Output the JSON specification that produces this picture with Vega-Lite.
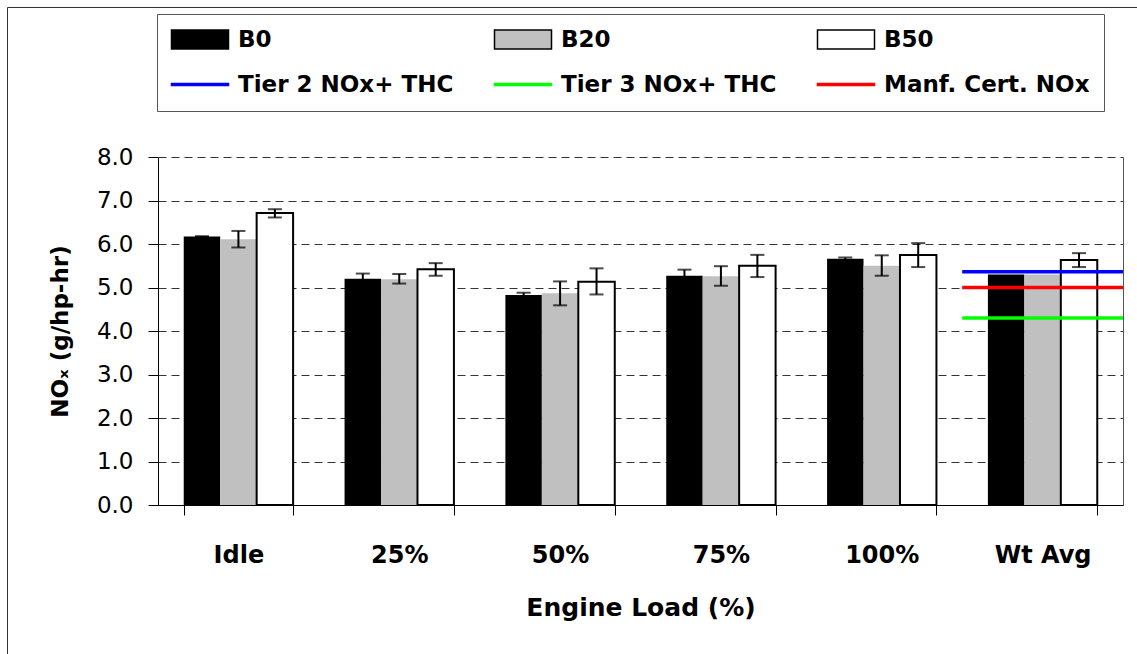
{
  "$schema": "https://vega.github.io/schema/vega-lite/v6.json",
  "width": 965,
  "height": 348,
  "autosize": {"type": "none"},
  "padding": {"left": 158, "top": 157, "right": 14, "bottom": 149},
  "background": "white",
  "config": {"view": {"stroke": null}},
  "datasets": {
    "bars": [
      {"load": "Idle", "series": "B0", "nox": 6.17, "lo": 6.16, "hi": 6.18},
      {"load": "Idle", "series": "B20", "nox": 6.11, "lo": 5.92, "hi": 6.30},
      {"load": "Idle", "series": "B50", "nox": 6.71, "lo": 6.61, "hi": 6.80},
      {"load": "25%", "series": "B0", "nox": 5.20, "lo": 5.08, "hi": 5.32},
      {"load": "25%", "series": "B20", "nox": 5.19, "lo": 5.09, "hi": 5.31},
      {"load": "25%", "series": "B50", "nox": 5.42, "lo": 5.27, "hi": 5.56},
      {"load": "50%", "series": "B0", "nox": 4.83, "lo": 4.78, "hi": 4.88},
      {"load": "50%", "series": "B20", "nox": 4.87, "lo": 4.59, "hi": 5.14},
      {"load": "50%", "series": "B50", "nox": 5.13, "lo": 4.84, "hi": 5.44},
      {"load": "75%", "series": "B0", "nox": 5.27, "lo": 5.13, "hi": 5.41},
      {"load": "75%", "series": "B20", "nox": 5.26, "lo": 5.04, "hi": 5.49},
      {"load": "75%", "series": "B50", "nox": 5.50, "lo": 5.24, "hi": 5.75},
      {"load": "100%", "series": "B0", "nox": 5.66, "lo": 5.63, "hi": 5.69},
      {"load": "100%", "series": "B20", "nox": 5.50, "lo": 5.27, "hi": 5.74},
      {"load": "100%", "series": "B50", "nox": 5.75, "lo": 5.47, "hi": 6.02},
      {"load": "Wt Avg", "series": "B0", "nox": 5.30, "lo": null, "hi": null},
      {"load": "Wt Avg", "series": "B20", "nox": 5.30, "lo": null, "hi": null},
      {"load": "Wt Avg", "series": "B50", "nox": 5.63, "lo": 5.47, "hi": 5.79}
    ],
    "limits": [
      {"load": "Wt Avg", "series": "Tier 2 NOx+ THC", "nox": 5.36},
      {"load": "Wt Avg", "series": "Tier 3 NOx+ THC", "nox": 4.30},
      {"load": "Wt Avg", "series": "Manf. Cert. NOx", "nox": 5.00}
    ]
  },
  "resolve": {"axis": {"y": "independent"}},
  "layer": [
    {
      "data": {"name": "bars"},
      "mark": {"type": "bar", "stroke": "black"},
      "encoding": {
        "x": {
          "field": "load", "type": "nominal",
          "sort": ["Idle", "25%", "50%", "75%", "100%", "Wt Avg"],
          "scale": {"paddingInner": 0.32, "paddingOuter": 0.16},
          "title": "Engine Load (%)",
          "axis": {
            "labelFont": "DejaVu Sans", "labelFontWeight": "bold", "labelFontSize": 24, "labelColor": "black",
            "labelPadding": 28, "labelAngle": 0, "tickSize": 10, "tickBand": "extent", "tickColor": "black",
            "domainColor": "black", "grid": false,
            "titleFont": "DejaVu Sans", "titleFontWeight": "bold", "titleFontSize": 25, "titleColor": "black", "titlePadding": 28
          }
        },
        "xOffset": {"field": "series", "type": "nominal", "scale": {"domain": ["B0", "B20", "B50"], "paddingInner": 0, "paddingOuter": 0}},
        "y": {
          "field": "nox", "type": "quantitative",
          "scale": {"domain": [0, 8], "nice": false},
          "title": "NOₓ (g/hp-hr)",
          "axis": {
            "orient": "left", "values": [0, 1, 2, 3, 4, 5, 6, 7, 8], "format": ".1f",
            "labelFont": "DejaVu Sans", "labelFontSize": 23, "labelColor": "black", "labelPadding": 15,
            "tickSize": 10, "tickColor": "black", "domainColor": "black",
            "grid": true, "gridDash": [8, 5], "gridColor": "#333333", "gridWidth": 1,
            "titleFont": "DejaVu Sans", "titleFontWeight": "bold", "titleFontSize": 23, "titleColor": "black", "titlePadding": 24
          }
        },
        "fill": {
          "field": "series", "type": "nominal",
          "scale": {
            "domain": ["B0", "B20", "B50", "Tier 2 NOx+ THC", "Tier 3 NOx+ THC", "Manf. Cert. NOx"],
            "range": ["#000000", "#c0c0c0", "#ffffff", "#0000ff", "#00ff00", "#ff0000"]
          },
          "legend": {
            "orient": "none", "legendX": -1, "legendY": -143, "direction": "horizontal", "columns": 3,
            "title": null, "padding": 14, "strokeColor": "#555555",
            "labelFont": "DejaVu Sans", "labelFontWeight": "bold", "labelFontSize": 23, "labelColor": "black",
            "labelLimit": 400, "symbolStrokeWidth": 1.5,
            "columnPadding": 37, "rowPadding": 21,
            "encode": {
              "symbols": {"update": {"x": {"value": 29}, "y": {"value": 11.5}, "size": {"value": 3249}, "shape": {"signal": "indexof(['B0','B20','B50'], datum.value) >= 0 ? 'M-1,-0.333H1V0.333H-1Z' : 'M-1,-0.035H1V0.035H-1Z'"}}},
              "labels": {"update": {"x": {"value": 67}, "y": {"value": 11.5}}}
            }
          }
        },
        "strokeWidth": {"condition": {"test": "datum.series === 'B50'", "value": 2}, "value": 0}
      }
    },
    {
      "data": {"name": "bars"},
      "mark": {"type": "rule", "color": "black"},
      "encoding": {
        "x": {"field": "load", "type": "nominal", "sort": ["Idle", "25%", "50%", "75%", "100%", "Wt Avg"]},
        "xOffset": {"field": "series", "type": "nominal"},
        "y": {"field": "lo", "type": "quantitative", "axis": null},
        "y2": {"field": "hi"},
        "strokeWidth": {
          "field": "series", "type": "ordinal",
          "scale": {"type": "ordinal", "domain": ["B0", "B20", "B50"], "range": [2, 2, 2]},
          "legend": {
            "values": [], "orient": "none", "legendX": -151, "legendY": -150, "padding": 600,
            "strokeColor": "#333333", "title": " ", "titleFontSize": 2
          }
        }
      }
    },
    {
      "data": {"name": "bars"},
      "mark": {"type": "tick", "color": "black", "thickness": 2, "size": 14, "orient": "horizontal"},
      "encoding": {
        "x": {"field": "load", "type": "nominal", "sort": ["Idle", "25%", "50%", "75%", "100%", "Wt Avg"]},
        "xOffset": {"field": "series", "type": "nominal"},
        "y": {"field": "lo", "type": "quantitative", "axis": null}
      }
    },
    {
      "data": {"name": "bars"},
      "mark": {"type": "tick", "color": "black", "thickness": 2, "size": 14, "orient": "horizontal"},
      "encoding": {
        "x": {"field": "load", "type": "nominal", "sort": ["Idle", "25%", "50%", "75%", "100%", "Wt Avg"]},
        "xOffset": {"field": "series", "type": "nominal"},
        "y": {"field": "hi", "type": "quantitative", "axis": null}
      }
    },
    {
      "data": {"name": "limits"},
      "mark": {"type": "rule", "strokeWidth": 3.5},
      "encoding": {
        "x": {"field": "load", "type": "nominal", "sort": ["Idle", "25%", "50%", "75%", "100%", "Wt Avg"], "bandPosition": -0.235},
        "x2": {"field": "load", "bandPosition": 1.235},
        "y": {
          "field": "nox", "type": "quantitative",
          "axis": {"orient": "right", "labels": false, "ticks": false, "grid": false, "domain": true, "domainColor": "#555555", "title": null}
        },
        "stroke": {
          "field": "series", "type": "nominal",
          "scale": {
            "domain": ["B0", "B20", "B50", "Tier 2 NOx+ THC", "Tier 3 NOx+ THC", "Manf. Cert. NOx"],
            "range": ["#000000", "#000000", "#000000", "#0000ff", "#00ff00", "#ff0000"]
          },
          "legend": {
            "orient": "none", "legendX": -1, "legendY": -143, "direction": "horizontal", "columns": 3,
            "title": null, "padding": 14, "strokeColor": "#555555",
            "labelFont": "DejaVu Sans", "labelFontWeight": "bold", "labelFontSize": 23, "labelColor": "black",
            "labelLimit": 400, "symbolStrokeWidth": 1.5,
            "columnPadding": 37, "rowPadding": 21,
            "encode": {
              "symbols": {"update": {"x": {"value": 29}, "y": {"value": 11.5}, "size": {"value": 3249}, "shape": {"signal": "indexof(['B0','B20','B50'], datum.value) >= 0 ? 'M-1,-0.333H1V0.333H-1Z' : 'M-1,-0.035H1V0.035H-1Z'"}}},
              "labels": {"update": {"x": {"value": 67}, "y": {"value": 11.5}}}
            }
          }
        }
      }
    }
  ]
}
